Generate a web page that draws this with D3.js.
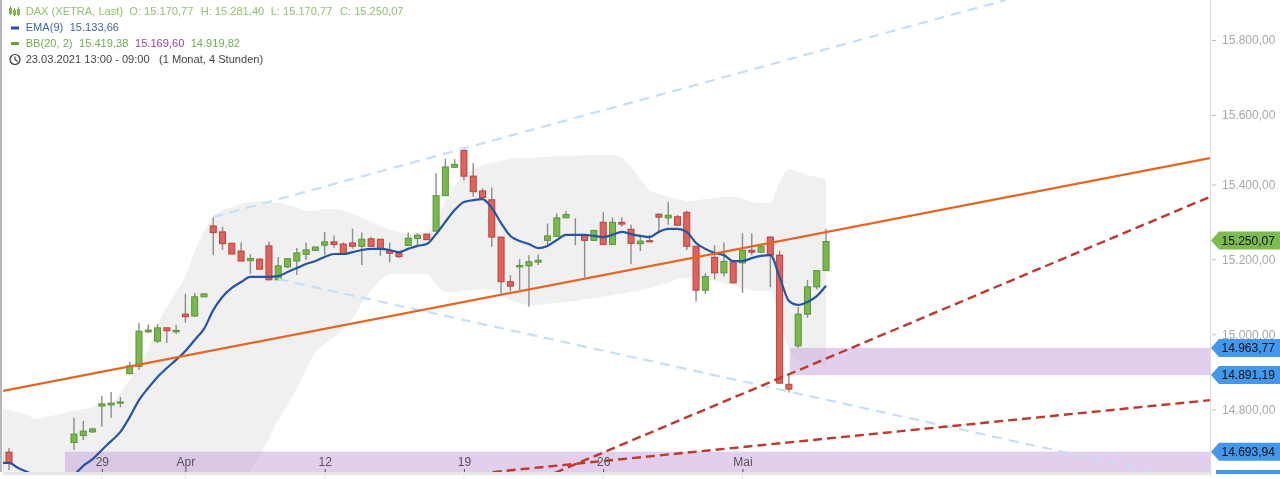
<!DOCTYPE html>
<html>
<head>
<meta charset="utf-8">
<script src="https://cdnjs.cloudflare.com/ajax/libs/d3/7.8.5/d3.min.js"></script>
<style>
    html, body { margin: 0; padding: 0; background: #fff; overflow: hidden; }
    svg { display: block; font-family: "Liberation Sans", Arial, sans-serif; filter: blur(0.35px); }
</style>
</head>
<body>
<svg id="chart" width="1280" height="479"></svg>
<script>
// bars are 4 hour candles, 3 per day; null = below the visible part of the chart
var opens = [14635, 14683, null, null, null, null, null, null, 14709, 14728,
    14738, 14808, 14811, 14816, 14896, 14915, 15009, 14984, 15020, 15009,
    15057, 15052, 15104, 15296, 15280, 15249, 15228, 15202, 15206, 15242,
    15150, 15185, 15201, 15219, 15230, 15244, 15253, 15247, 15250, 15241,
    15261, 15260, 15229, 15222, 15243, 15262, 15274, 15282, 15378, 15455,
    15501, 15431, 15391, 15367, 15266, 15145, 15185, 15188, 15198, 15257,
    15268, 15318, 15273, 15273, 15257, 15306, 15246, 15306, 15287, 15248,
    15256, 15328, 15318, 15321, 15333, 15241, 15122, 15211, 15169, 15199,
    15196, 15230, 15225, 15266, 15217, 14867, 14971, 15057, 15131, 15175];
var highs = [14683, 14694, null, null, null, null, null, null, 14776, 14768,
    14749, 14835, 14846, 14833, 14928, 15033, 15028, 15030, 15020, 15028,
    15112, 15115, 15112, 15320, 15294, 15251, 15251, 15220, 15209, 15253,
    15212, 15209, 15236, 15251, 15240, 15280, 15270, 15251, 15289, 15278,
    15267, 15261, 15251, 15226, 15278, 15276, 15274, 15439, 15479, 15477,
    15506, 15466, 15398, 15400, 15266, 15163, 15206, 15217, 15219, 15303,
    15330, 15337, 15317, 15274, 15285, 15333, 15319, 15319, 15299, 15267,
    15272, 15330, 15361, 15326, 15337, 15242, 15168, 15244, 15251, 15200,
    15276, 15276, 15244, 15267, 15229, 14892, 15077, 15150, 15175, 15288];
var lows = [14635, 14635, null, null, null, null, null, null, 14689, 14716,
    14735, 14752, 14776, 14805, 14893, 14906, 15006, 14979, 14979, 15003,
    15034, 15050, 15104, 15217, 15231, 15220, 15201, 15166, 15179, 15150,
    15150, 15182, 15163, 15204, 15228, 15217, 15237, 15219, 15234, 15190,
    15240, 15215, 15198, 15209, 15243, 15244, 15259, 15282, 15377, 15455,
    15419, 15375, 15373, 15240, 15114, 15118, 15122, 15077, 15190, 15240,
    15268, 15318, 15244, 15157, 15256, 15246, 15245, 15294, 15193, 15228,
    15253, 15276, 15299, 15297, 15231, 15091, 15112, 15151, 15159, 15141,
    15115, 15217, 15224, 15130, 14868, 14845, 14966, 15047, 15124, 15175];
var closes = [14683, 14654, null, null, null, null, null, null, 14732, 14740,
    14746, 14814, 14816, 14819, 14917, 15011, 15014, 15020, 15012, 15013,
    15050, 15104, 15112, 15278, 15248, 15220, 15201, 15208, 15179, 15150,
    15188, 15207, 15223, 15231, 15239, 15253, 15246, 15221, 15241, 15260,
    15241, 15234, 15222, 15213, 15263, 15271, 15259, 15378, 15456, 15463,
    15431, 15389, 15373, 15266, 15145, 15133, 15189, 15199, 15203, 15269,
    15318, 15327, 15272, 15257, 15284, 15246, 15306, 15301, 15249, 15255,
    15253, 15320, 15325, 15298, 15241, 15122, 15159, 15169, 15200, 15142,
    15230, 15225, 15241, 15217, 14870, 14854, 15057, 15131, 15175, 15254];

var ema = [14654, 14654, 14640, 14629, 14618, 14605, 14597, 14605, 14621, 14646,
    14664, 14689, 14713, 14738, 14778, 14824, 14857, 14887, 14911, 14933,
    14957, 14987, 15017, 15068, 15104, 15128, 15144, 15158, 15158, 15158,
    15160, 15171, 15182, 15193, 15201, 15212, 15220, 15220, 15225, 15231,
    15234, 15234, 15231, 15225, 15234, 15242, 15247, 15274, 15307, 15339,
    15361, 15366, 15369, 15345, 15304, 15269, 15255, 15247, 15236, 15242,
    15258, 15272, 15272, 15272, 15269, 15266, 15272, 15280, 15274, 15269,
    15266, 15280, 15288, 15288, 15280, 15250, 15234, 15223, 15217, 15201,
    15201, 15209, 15215, 15217, 15158, 15093, 15082, 15090, 15106, 15134];

var bbUpper = [14803, 14797, 14792, 14784, 14773, 14778, 14784, 14789, 14795, 14800,
    14805, 14811, 14816, 14843, 14879, 14917, 14963, 15028, 15076, 15117,
    15160, 15228, 15280, 15320, 15339, 15347, 15356, 15361, 15364, 15361,
    15358, 15353, 15347, 15337, 15337, 15342, 15342, 15337, 15328, 15318,
    15307, 15296, 15285, 15280, 15274, 15280, 15282, 15307, 15364, 15407,
    15434, 15450, 15461, 15467, 15472, 15478, 15480, 15480, 15483, 15483,
    15486, 15486, 15486, 15488, 15488, 15488, 15488, 15480, 15456, 15423,
    15393, 15383, 15375, 15369, 15364, 15366, 15369, 15372, 15375, 15375,
    15369, 15361, 15358, 15358, 15415, 15450, 15442, 15434, 15429, 15423];
var bbLower = [14560, 14560, 14560, 14560, 14560, 14560, 14560, 14560, 14560, 14560,
    14560, 14560, 14560, 14560, 14560, 14560, 14560, 14560, 14560, 14560,
    14560, 14560, 14560, 14560, 14560, 14567, 14599, 14635, 14675, 14721,
    14770, 14811, 14857, 14908, 14954, 14976, 14995, 15017, 15044, 15087,
    15120, 15150, 15166, 15166, 15166, 15166, 15166, 15139, 15117, 15117,
    15120, 15122, 15125, 15125, 15109, 15095, 15087, 15082, 15082, 15085,
    15087, 15090, 15093, 15098, 15101, 15104, 15109, 15112, 15117, 15122,
    15128, 15136, 15141, 15152, 15155, 15158, 15152, 15147, 15141, 15136,
    15128, 15122, 15120, 15120, 15041, 14965, 14930, 14922, 14919, 14919];

// trend lines: [bar, price, bar, price]
var orangeTrend = [0.35, 14849, 130.35, 15480];
var blueTrends = [[23, 15320, 108.3, 15908], [30, 15152, 124.4, 14629]];
var redTrends = [[59.8, 14627, 130.35, 15375], [53.1, 14629, 130.35, 14824]];

// support / resistance zones: [first bar, price top, price bottom]
var zones = [[85.1, 14963.77, 14891.19], [7.03, 14693.94, 14500]];

var yTicks = [14800, 15000, 15200, 15400, 15600, 15800];
var xTickBars = [11, 20, 35, 50, 65, 80];
var xTickLabels = ["29", "Apr", "12", "19", "26", "Mai"];

var lastPrice = 15250.07;
var levelPrices = [14963.77, 14891.19, 14693.94];

var width = 1280, height = 479;
var plot = {left: 3, right: 1210, bottom: 472};
var green = "#7ab84c", greenDark = "#58953a", red = "#df635c", redDark = "#b8413b";

var svg = d3.select("#chart");
var de = d3.formatLocale({decimal: ",", thousands: ".", grouping: [3], currency: ["", ""]});
var fmt = de.format(",.2f");

var x = d3.scaleLinear().domain([0, 130.3]).range([-0.3, 1209.5]);
var y = d3.scaleLinear().domain([14800, 15800]).range([409, 40]);
// the right axis of the original is not quite even, so it gets its own scale
var yAxisScale = d3.scaleLinear()
    .domain([14693.94, 14800, 15000, 15200, 15400, 15600, 15800])
    .range([451.7, 409.3, 334.3, 259.3, 184.5, 115, 40]);

svg.append("defs").append("clipPath").attr("id", "plotClip")
    .append("rect")
    .attr("x", plot.left).attr("y", 0)
    .attr("width", plot.right - plot.left).attr("height", plot.bottom);

// left border
svg.append("line")
    .attr("x1", 1).attr("x2", 1).attr("y1", 0).attr("y2", plot.bottom)
    .attr("stroke", "#b4b8bc").attr("stroke-width", 2);

var g = svg.append("g").attr("clip-path", "url(#plotClip)");

// Bollinger band
var band = d3.area()
    .x(function (d, i) { return x(i); })
    .y0(function (d, i) { return y(bbLower[i]); })
    .y1(function (d) { return y(d); })
    .curve(d3.curveMonotoneX);
g.append("path").datum(bbUpper)
    .attr("d", band)
    .attr("fill", "#f0f0f0");

// zones
g.selectAll(".zone")
    .data(zones)
    .enter().append("rect")
    .attr("class", "zone")
    .attr("x", function (d) { return x(d[0]); })
    .attr("width", function (d) { return plot.right - x(d[0]); })
    .attr("y", function (d) { return yAxisScale(d[1]); })
    .attr("height", function (d) { return yAxisScale(d[2]) - yAxisScale(d[1]); })
    .attr("fill", "#c49fdc")
    .attr("fill-opacity", 0.5);

// candles
var bars = d3.range(opens.length).filter(function (i) { return opens[i] !== null; });

var candles = g.selectAll(".candle")
    .data(bars)
    .enter().append("g")
    .attr("class", "candle");

candles.append("line")
    .attr("x1", function (i) { return x(i); })
    .attr("x2", function (i) { return x(i); })
    .attr("y1", function (i) { return y(highs[i]); })
    .attr("y2", function (i) { return y(lows[i]); })
    .attr("stroke", "#8c8c8c")
    .attr("stroke-width", 1.4);

candles.append("rect")
    .attr("x", function (i) { return x(i) - 3; })
    .attr("width", 6)
    .attr("y", function (i) { return y(Math.max(opens[i], closes[i])); })
    .attr("height", function (i) {
        return Math.max(0.8, Math.abs(y(opens[i]) - y(closes[i])));
    })
    .attr("fill", function (i) { return closes[i] >= opens[i] ? green : red; })
    .attr("stroke", function (i) { return closes[i] >= opens[i] ? greenDark : redDark; })
    .attr("stroke-width", 1);

// trend lines
function trendLine(t, color, w, dash) {
    g.append("line")
        .attr("x1", x(t[0])).attr("y1", y(t[1]))
        .attr("x2", x(t[2])).attr("y2", y(t[3]))
        .attr("stroke", color)
        .attr("stroke-width", w)
        .attr("stroke-dasharray", dash);
}
blueTrends.forEach(function (t) { trendLine(t, "#c6def6", 2.2, "10,7"); });

// EMA
var emaLine = d3.line()
    .x(function (d, i) { return x(i); })
    .y(function (d) { return y(d); })
    .curve(d3.curveMonotoneX);
g.append("path").datum(ema)
    .attr("d", emaLine)
    .attr("fill", "none")
    .attr("stroke", "#2455a5")
    .attr("stroke-width", 2.2);

trendLine(orangeTrend, "#e8641f", 2.2, null);
redTrends.forEach(function (t) { trendLine(t, "#c1372c", 2.4, "9,5"); });

// x axis
var xAxis = d3.axisBottom(x)
    .tickValues(xTickBars)
    .tickSize(3)
    .tickPadding(-15)
    .tickFormat(function (d, i) { return xTickLabels[i]; });

svg.append("rect")
    .attr("x", plot.left).attr("y", plot.bottom)
    .attr("width", plot.right - plot.left).attr("height", 3)
    .attr("fill", "#e6e6e6");

svg.selectAll(".xgrid")
    .data(xTickBars)
    .enter().append("line")
    .attr("class", "xgrid")
    .attr("x1", function (d) { return x(d); })
    .attr("x2", function (d) { return x(d); })
    .attr("y1", plot.bottom + 3).attr("y2", height)
    .attr("stroke", "#e4e4e4");

var xg = svg.append("g")
    .attr("transform", "translate(0," + (plot.bottom - 3) + ")")
    .call(xAxis);
xg.select(".domain").remove();
xg.selectAll(".tick line").attr("stroke", "#555");
xg.selectAll(".tick text")
    .attr("fill", "#555")
    .attr("font-size", 12)
    .attr("font-family", "Liberation Sans, Arial, sans-serif");

// y axis
var yAxis = d3.axisRight(yAxisScale)
    .tickValues(yTicks)
    .tickSize(4)
    .tickPadding(6)
    .tickFormat(fmt);

var yg = svg.append("g")
    .attr("transform", "translate(1212,0)")
    .call(yAxis);
yg.select(".domain").remove();
yg.selectAll(".tick line").attr("stroke", "#bdbdbd");
yg.selectAll(".tick text")
    .attr("fill", "#a8a8a8")
    .attr("font-size", 12)
    .attr("font-family", "Liberation Sans, Arial, sans-serif");

svg.append("line")
    .attr("x1", 1210.5).attr("x2", 1210.5).attr("y1", 0).attr("y2", 476)
    .attr("stroke", "#dcdcdc");

// price tags
function tag(cy, color, label) {
    var p = d3.path();
    p.moveTo(1211, cy);
    p.lineTo(1219, cy - 9);
    p.lineTo(width, cy - 9);
    p.lineTo(width, cy + 9);
    p.lineTo(1219, cy + 9);
    p.closePath();
    svg.append("path").attr("d", p.toString()).attr("fill", color);
    if (label) {
        svg.append("text")
            .attr("x", 1221.5).attr("y", cy + 4.3)
            .attr("font-size", 12)
            .attr("fill", "#111")
            .text(label);
    }
}
tag(yAxisScale(lastPrice), "#7cbb50", fmt(lastPrice));
levelPrices.forEach(function (v) { tag(yAxisScale(v), "#4298ea", fmt(v)); });
// next tag is cut off by the bottom edge of the chart
svg.append("rect").attr("x", 1216).attr("y", 470).attr("width", 64).attr("height", 4).attr("fill", "#4298ea");

// header
var header = [
    [25.7, 14.5, "DAX (XETRA, Last)", "#8cc46a"],
    [129.3, 14.5, "O: " + fmt(15170.77), "#8cc46a"],
    [200.7, 14.5, "H: " + fmt(15281.40), "#8cc46a"],
    [270.7, 14.5, "L: " + fmt(15170.77), "#8cc46a"],
    [340, 14.5, "C: " + fmt(15250.07), "#8cc46a"],
    [25.7, 31, "EMA(9)", "#3e66ad"],
    [69.7, 31, fmt(15133.66), "#3e66ad"],
    [25.7, 47, "BB(20, 2)", "#6fae4f"],
    [79, 47, fmt(15419.38), "#6fae4f"],
    [135, 47, fmt(15169.60), "#9a3fa6"],
    [190.7, 47, fmt(14919.82), "#6fae4f"],
    [25.7, 63, "23.03.2021 13:00 - 09:00", "#444"],
    [159, 63, "(1 Monat, 4 Stunden)", "#444"]
];
svg.selectAll(".head")
    .data(header)
    .enter().append("text")
    .attr("class", "head")
    .attr("x", function (d) { return d[0]; })
    .attr("y", function (d) { return d[1]; })
    .attr("fill", function (d) { return d[3]; })
    .attr("font-size", 11.1)
    .text(function (d) { return d[2]; });

// header icons
[[10.5, 7, 7], [14.5, 9, 6], [18.5, 8, 7]].forEach(function (b) {
    svg.append("line").attr("x1", b[0]).attr("x2", b[0]).attr("y1", b[1] - 1).attr("y2", b[1] + b[2] + 1)
        .attr("stroke", "#6fae4f");
    svg.append("rect").attr("x", b[0] - 1.5).attr("y", b[1] + 1).attr("width", 3).attr("height", b[2] - 1)
        .attr("fill", "#7ab84c");
});
svg.append("rect").attr("x", 11).attr("y", 26.5).attr("width", 8).attr("height", 3).attr("fill", "#2455a5");
svg.append("rect").attr("x", 11).attr("y", 42).attr("width", 8).attr("height", 3).attr("fill", "#5ea43f");
svg.append("circle").attr("cx", 15).attr("cy", 59.5).attr("r", 5)
    .attr("fill", "none").attr("stroke", "#333").attr("stroke-width", 1.2);
svg.append("path").attr("d", "M15,56.5V59.5L17.5,61.5")
    .attr("fill", "none").attr("stroke", "#333").attr("stroke-width", 1.1);
</script>
</body>
</html>
